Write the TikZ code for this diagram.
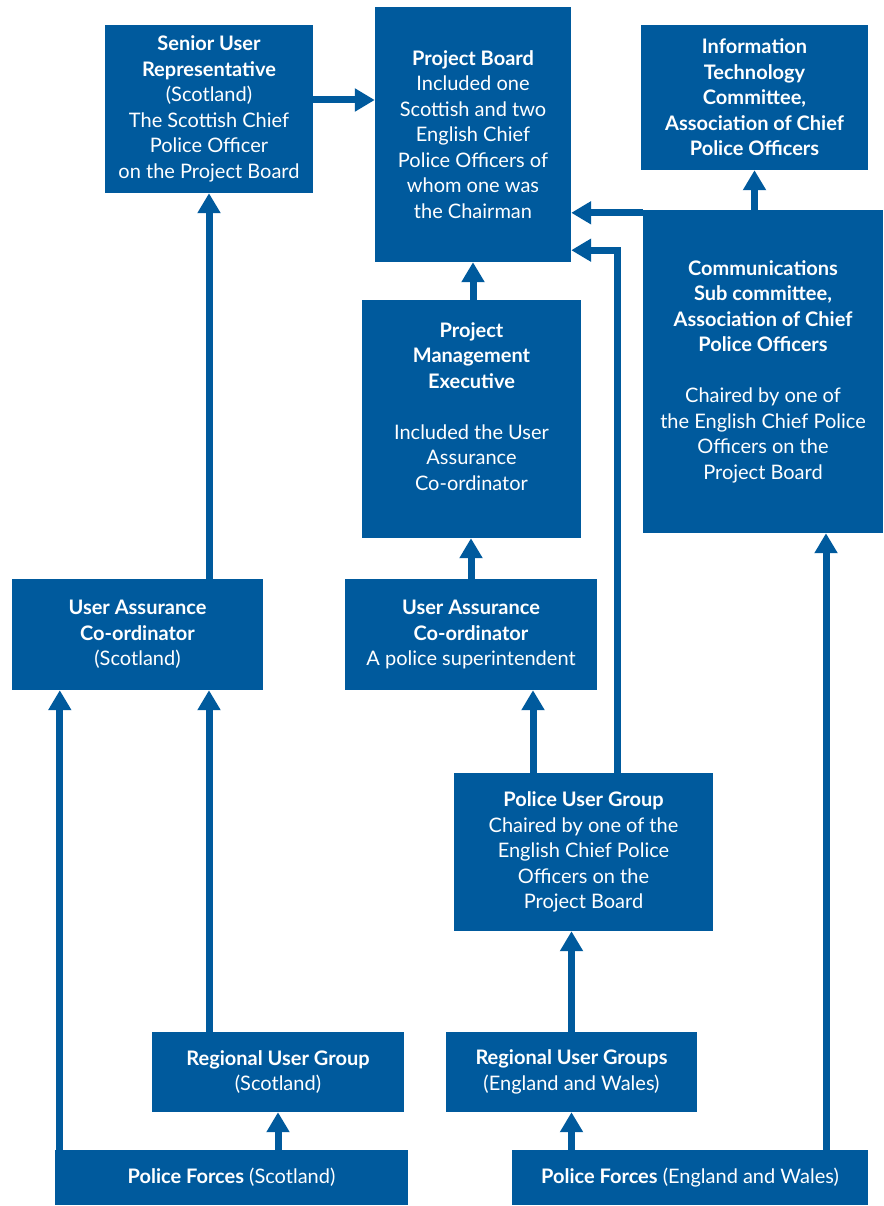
\documentclass[tikz,border=0pt]{standalone}
\usepackage{fontspec}
\setmainfont{Lato}
\usetikzlibrary{arrows.meta}
\definecolor{boardblue}{RGB}{0,90,157}

\begin{document}
\begin{tikzpicture}
    [x=1pt, y=-1pt, >={Triangle[width=22pt,length=20pt]},
     box/.style={fill=boardblue, text=white, align=center, inner sep=0pt,
                 font=\fontsize{20}{25.5}\selectfont},
     up/.style={->, draw=boardblue, line width=7pt}]
    \useasboundingbox (0,0) rectangle (883,1206);

    \node[box, minimum width=208pt, minimum height=168pt] (senior) at (209,109)
        {\textbf{Senior User}\\\textbf{Representative}\\(Scotland)\\The Scottish Chief\\Police Officer\\on the Project Board};
    \node[box, minimum width=196pt, minimum height=255pt] (board) at (473,134.5)
        {\textbf{Project Board}\\Included one\\Scottish and two\\English Chief\\Police Officers of\\whom one was\\the Chairman};
    \node[box, minimum width=227pt, minimum height=145pt] (itc) at (754.5,97.5)
        {\textbf{Information}\\\textbf{Technology}\\\textbf{Committee,}\\\textbf{Association of Chief}\\\textbf{Police Officers}};
    \node[box, minimum width=240pt, minimum height=323pt] (comms) at (763,371.5)
        {\textbf{Communications}\\\textbf{Sub committee,}\\\textbf{Association of Chief}\\\textbf{Police Officers}\\[25.5pt]Chaired by one of\\the English Chief Police\\Officers on the\\Project Board};
    \node[box, minimum width=219pt, minimum height=238pt] (pme) at (471.5,419)
        {\textbf{Project}\\\textbf{Management}\\\textbf{Executive}\\[25.5pt]Included the User\\Assurance\\Co-ordinator\\~};
    \node[box, minimum width=251pt, minimum height=111pt] (uacs) at (137.5,634.5)
        {\textbf{User Assurance}\\\textbf{Co-ordinator}\\(Scotland)};
    \node[box, minimum width=252pt, minimum height=111pt] (uacp) at (471,634.5)
        {\textbf{User Assurance}\\\textbf{Co-ordinator}\\A police superintendent};
    \node[box, minimum width=259pt, minimum height=158pt] (pug) at (583.5,852)
        {\textbf{Police User Group}\\Chaired by one of the\\English Chief Police\\Officers on the\\Project Board};
    \node[box, minimum width=252pt, minimum height=80pt] (rugs) at (278,1072)
        {\textbf{Regional User Group}\\(Scotland)};
    \node[box, minimum width=251pt, minimum height=80pt] (rugew) at (571.5,1072)
        {\textbf{Regional User Groups}\\(England and Wales)};
    \node[box, minimum width=353pt, minimum height=55pt] (pfs) at (231.5,1177.5)
        {\textbf{Police Forces} (Scotland)};
    \node[box, minimum width=356pt, minimum height=55pt] (pfew) at (690,1177.5)
        {\textbf{Police Forces} (England and Wales)};

    % tapping points off the box centres
    \coordinate (seniorout) at ([yshift=9pt]senior.east);
    \coordinate (commsout) at ([yshift=-3pt]comms.north west);
    \coordinate (boardin) at ([yshift=12pt]board.south east);
    \coordinate (pugleft) at ([xshift=-50.5pt]pug.north);
    \coordinate (pugright) at ([xshift=33.5pt]pug.north);
    \coordinate (pfewright) at ([xshift=136pt]pfew.north);
    \coordinate (scotleft) at ([xshift=48pt]uacs.south west);

    \draw[up] (seniorout) -- (seniorout -| board.west);
    \draw[up] (senior.south |- uacs.north) -- (senior.south);
    \draw[up] (board.south |- pme.north) -- (board.south);
    \draw[up] (uacp.north) -- (uacp.north |- pme.south);
    \draw[up] (pugleft) -- (pugleft |- uacp.south);
    \draw[up] (pugright) |- (boardin);
    \draw[up] (commsout) -- (commsout -| board.east);
    \draw[up] (itc.south |- comms.north) -- (itc.south);
    \draw[up] (rugew.north) -- (rugew.north |- pug.south);
    \draw[up] (rugew.south |- pfew.north) -- (rugew.south);
    \draw[up] (pfewright) -- (pfewright |- comms.south);
    \draw[up] (scotleft |- pfs.north) -- (scotleft);
    \draw[up] (senior.south |- rugs.north) -- (senior.south |- uacs.south);
    \draw[up] (rugs.south |- pfs.north) -- (rugs.south);
\end{tikzpicture}
\end{document}
